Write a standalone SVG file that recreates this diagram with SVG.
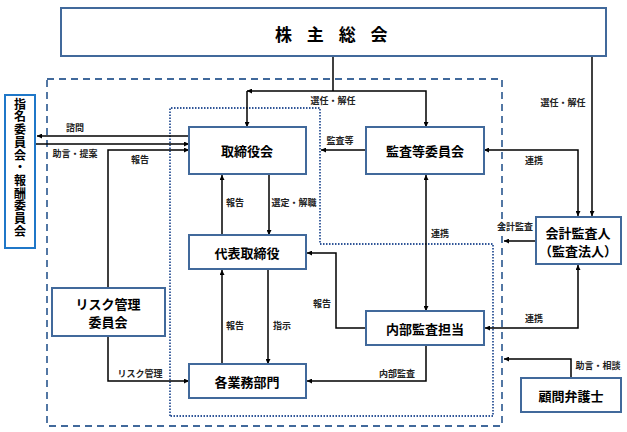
<svg xmlns="http://www.w3.org/2000/svg" width="627" height="432" viewBox="0 0 627 432">
<defs>
<marker id="ah" viewBox="0 0 10 10" refX="10" refY="5" markerWidth="5" markerHeight="5" orient="auto-start-reverse" markerUnits="userSpaceOnUse">
<path d="M0,0 L10,5 L0,10 z" fill="#000"/>
</marker>
<style>
.box{fill:#fff;stroke:#41699B;stroke-width:2}
.lbl{font-family:"Noto Sans CJK JP","Noto Sans",sans-serif;font-weight:bold;font-size:13px;fill:#000;text-anchor:middle;dominant-baseline:central}
.sm{font-family:"Noto Sans CJK JP","Noto Sans",sans-serif;font-weight:bold;font-size:9px;fill:#222;text-anchor:middle;dominant-baseline:central}
.ln{fill:none;stroke:#000;stroke-width:1.5}
.arr{marker-end:url(#ah)}
.both{marker-start:url(#ah);marker-end:url(#ah)}
</style>
</defs>
<rect width="627" height="432" fill="#fff"/>
<g id="regions">
<rect x="47" y="79" width="455" height="347" fill="none" stroke="#41699B" stroke-width="1.8" stroke-dasharray="7,5"/>
<path d="M170,416 L170,108 L320,108 L320,244 L493,244 L493,416 Z" fill="none" stroke="#2F5597" stroke-width="1.8" stroke-dasharray="1.5,1.5"/>
</g>
<g id="connectors">
<path class="ln" d="M333,56 L333,91"/>
<path class="ln arr" d="M247,91 L247,127"/>
<path class="ln arr" d="M333,91 L247,91"/>
<path class="ln arr" d="M333,91 L426,91 L426,127"/>
<path class="ln arr" d="M592,56 L592,216"/>
<path class="ln both" d="M484,150 L578,150 L578,216"/>
<path class="ln arr" d="M366,150 L321,150"/>
<path class="ln arr" d="M189,136 L37,136"/>
<path class="ln arr" d="M35,144 L189,144"/>
<path class="ln arr" d="M108,288 L108,150 L189,150"/>
<path class="ln arr" d="M222,235 L222,175"/>
<path class="ln arr" d="M269,174 L269,235"/>
<path class="ln arr" d="M222,364 L222,270"/>
<path class="ln arr" d="M268,269 L268,364"/>
<path class="ln arr" d="M108,336 L108,381 L189,381"/>
<path class="ln both" d="M426,175 L426,311"/>
<path class="ln arr" d="M366,328 L336,328 L336,253 L307,253"/>
<path class="ln arr" d="M426,345 L426,381 L307,381"/>
<path class="ln arr" d="M536,241 L504,241"/>
<path class="ln both" d="M485,328 L578,328 L578,265"/>
<path class="ln arr" d="M571,378 L571,359 L504,359"/>
<text class="sm" x="333" y="100">選任・解任</text>
<text class="sm" x="563" y="102">選任・解任</text>
<text class="sm" x="534" y="160">連携</text>
<text class="sm" x="340" y="140">監査等</text>
<text class="sm" x="75" y="127">諮問</text>
<text class="sm" x="75" y="153">助言・提案</text>
<text class="sm" x="140" y="159">報告</text>
<text class="sm" x="235" y="202">報告</text>
<text class="sm" x="294" y="202">選定・解職</text>
<text class="sm" x="235" y="325">報告</text>
<text class="sm" x="282" y="325">指示</text>
<text class="sm" x="140" y="373">リスク管理</text>
<text class="sm" x="440" y="233">連携</text>
<text class="sm" x="322" y="303">報告</text>
<text class="sm" x="397" y="373">内部監査</text>
<text class="sm" x="515" y="226">会計監査</text>
<text class="sm" x="534" y="318">連携</text>
<text class="sm" x="598" y="365">助言・相談</text>
</g>
<g id="shareholders">
<rect class="box" x="61" y="8" width="545" height="48"/>
<text x="275" y="33" style="font-family:'Noto Sans CJK JP',sans-serif;font-weight:bold;font-size:17px;dominant-baseline:central" letter-spacing="5.5">株 主 総 会</text>
</g>
<g id="nomination">
<rect x="5" y="95" width="30" height="153" fill="#fff" stroke="#1F77C8" stroke-width="2"/>
<text x="20" y="168" style="font-family:'Noto Sans CJK JP',sans-serif;font-weight:bold;font-size:12px;writing-mode:vertical-rl;text-anchor:middle" letter-spacing="0.7">指名委員会・報酬委員会</text>
</g>
<g id="board">
<rect class="box" x="189" y="127" width="117" height="47"/>
<text class="lbl" x="247" y="150">取締役会</text>
</g>
<g id="audit-committee">
<rect class="box" x="366" y="127" width="118" height="47"/>
<text class="lbl" x="425" y="150">監査等委員会</text>
</g>
<g id="representative">
<rect class="box" x="189" y="235" width="117" height="34"/>
<text class="lbl" x="247" y="252">代表取締役</text>
</g>
<g id="departments">
<rect class="box" x="189" y="364" width="117" height="34"/>
<text class="lbl" x="247" y="381">各業務部門</text>
</g>
<g id="risk">
<rect class="box" x="52" y="288" width="113" height="48"/>
<text class="lbl" x="108" y="303">リスク管理</text>
<text class="lbl" x="108" y="321">委員会</text>
</g>
<g id="internal-audit">
<rect class="box" x="366" y="311" width="118" height="34"/>
<text class="lbl" x="425" y="328">内部監査担当</text>
</g>
<g id="accounting-auditor">
<rect class="box" x="536" y="217" width="85" height="47"/>
<text class="lbl" x="578" y="232">会計監査人</text>
<text class="lbl" x="578" y="250">（監査法人）</text>
</g>
<g id="lawyer">
<rect class="box" x="521" y="378" width="100" height="34"/>
<text class="lbl" x="571" y="395">顧問弁護士</text>
</g>
</svg>
